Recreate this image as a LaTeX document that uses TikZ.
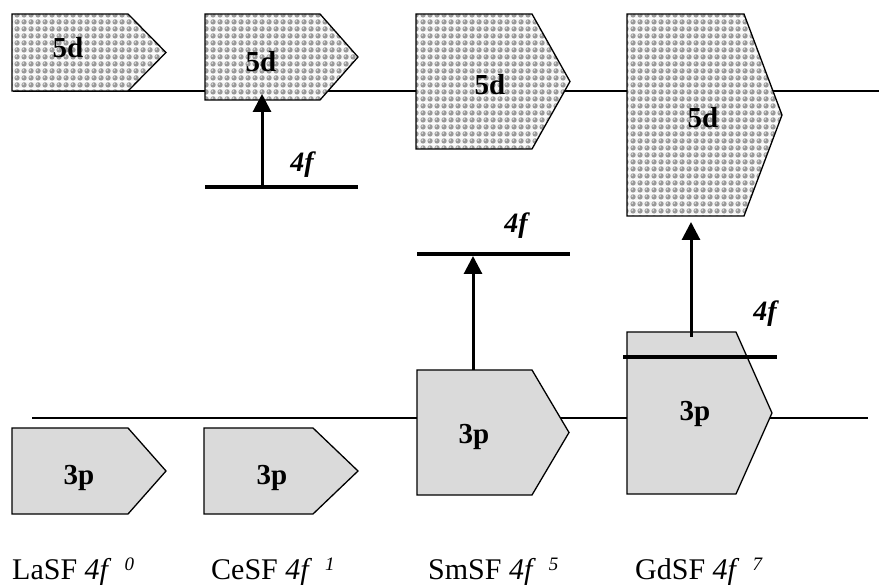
\documentclass[tikz,border=0pt]{standalone}
\usepackage{fontspec}
\setmainfont{Liberation Serif}
\usetikzlibrary{arrows.meta,patterns}

% textured fill for the 5d bands: grey spheres on a light ground
\pgfdeclarepatterninherentlycolored{spheres}{\pgfpointorigin}{\pgfqpoint{7pt}{7pt}}{\pgfqpoint{7pt}{7pt}}{%
  \pgfsetfillcolor{black!4}%
  \pgfpathrectangle{\pgfpointorigin}{\pgfqpoint{7pt}{7pt}}\pgfusepath{fill}%
  \pgfsetfillcolor{black!40}%
  \pgfpathcircle{\pgfqpoint{3.5pt}{3.5pt}}{3pt}\pgfusepath{fill}%
  \pgfsetfillcolor{black!14}%
  \pgfpathcircle{\pgfqpoint{2.6pt}{4.4pt}}{1.1pt}\pgfusepath{fill}%
}

\definecolor{pband}{RGB}{218,218,218}

% pentagon band: name, style, left, top, right of rectangle, bottom, tip x
\newcommand\band[7]{%
  \draw[#2] (#3,#4) coordinate (#1-nw) -- (#5,#4) coordinate (#1-ne)
    -- (#7,{(#4+#6)/2}) coordinate (#1-tip)
    -- (#5,#6) coordinate (#1-se) -- (#3,#6) coordinate (#1-sw) -- cycle;
}

\tikzset{
  bandline/.style={line width=1.3pt, line join=miter},
  dband/.style={bandline, pattern=spheres},
  pband/.style={bandline, fill=pband},
  baseline/.style={line width=1.2pt},
  level/.style={line width=4.5pt},
  excite/.style={line width=3pt, -{Triangle[width=18pt,length=18pt]}},
  blabel/.style={font=\fontsize{29}{29}\selectfont\bfseries, anchor=base, inner sep=0pt},
  flabel/.style={font=\fontsize{28}{28}\selectfont\bfseries\itshape, anchor=base, inner sep=0pt},
  clabel/.style={font=\fontsize{30}{30}\selectfont, anchor=base west, inner sep=0pt},
}

\newcommand\cfg[2]{#1 \textit{4f}\hspace{13pt}\raisebox{9pt}{\fontsize{19}{19}\selectfont\itshape #2}}

\begin{document}
\begin{tikzpicture}[x=1pt,y=-1pt]
\useasboundingbox (0,0) rectangle (879,585);

% reference levels
\coordinate (top-l) at (13,91);
\coordinate (top-r) at (879,91);
\coordinate (bot-l) at (32,418);
\coordinate (bot-r) at (868,418);
\draw[baseline] (top-l) -- (top-r);
\draw[baseline] (bot-l) -- (bot-r);

% 5d bands
\band{la5d}{dband}{12}{14}{128}{91}{166}
\band{ce5d}{dband}{205}{14}{320}{100}{358}
\band{sm5d}{dband}{416}{14}{532}{149}{570}
\band{gd5d}{dband}{627}{14}{744}{216}{782}

% 3p bands
\band{la3p}{pband}{12}{428}{128}{514}{166}
\band{ce3p}{pband}{204}{428}{313}{514}{358}
\band{sm3p}{pband}{417}{370}{532}{495}{569}
\band{gd3p}{pband}{627}{332}{736}{494}{772}

% 4f levels
\coordinate (ce4f-l) at (205,187); \coordinate (ce4f-r) at (358,187);
\coordinate (sm4f-l) at (417,254); \coordinate (sm4f-r) at (570,254);
\coordinate (gd4f-l) at (623,357); \coordinate (gd4f-r) at (777,357);
\draw[level] (ce4f-l) -- (ce4f-r);
\draw[level] (sm4f-l) -- (sm4f-r);
\draw[level] (gd4f-l) -- (gd4f-r);

% transitions
\coordinate (ce-from) at (262,187); \coordinate (ce-to) at (262,94);
\coordinate (sm-from) at (473,370); \coordinate (sm-to) at (473,256);
\coordinate (gd-from) at (691,337); \coordinate (gd-to) at (691,222);
\draw[excite] (ce-from) -- (ce-to);
\draw[excite] (sm-from) -- (sm-to);
\draw[excite] (gd-from) -- (gd-to);

% band labels
\node[blabel] (la5d-t) at (68,58) {5d};
\node[blabel] (ce5d-t) at (261,72) {5d};
\node[blabel] (sm5d-t) at (490,95) {5d};
\node[blabel] (gd5d-t) at (703,128) {5d};
\node[blabel] (la3p-t) at (79,484) {3p};
\node[blabel] (ce3p-t) at (272,484) {3p};
\node[blabel] (sm3p-t) at (474,444) {3p};
\node[blabel] (gd3p-t) at (695,421) {3p};

% 4f labels
\node[flabel] (ce4f-t) at (302,172) {4f};
\node[flabel] (sm4f-t) at (516,233) {4f};
\node[flabel] (gd4f-t) at (765,321) {4f};

% compound labels
\node[clabel] (la-c) at (12,579) {\cfg{LaSF}{0}};
\node[clabel] (ce-c) at (211,579) {\cfg{CeSF}{1}};
\node[clabel] (sm-c) at (428,579) {\cfg{SmSF}{5}};
\node[clabel] (gd-c) at (635,579) {\cfg{GdSF}{7}};
\end{tikzpicture}
\end{document}
